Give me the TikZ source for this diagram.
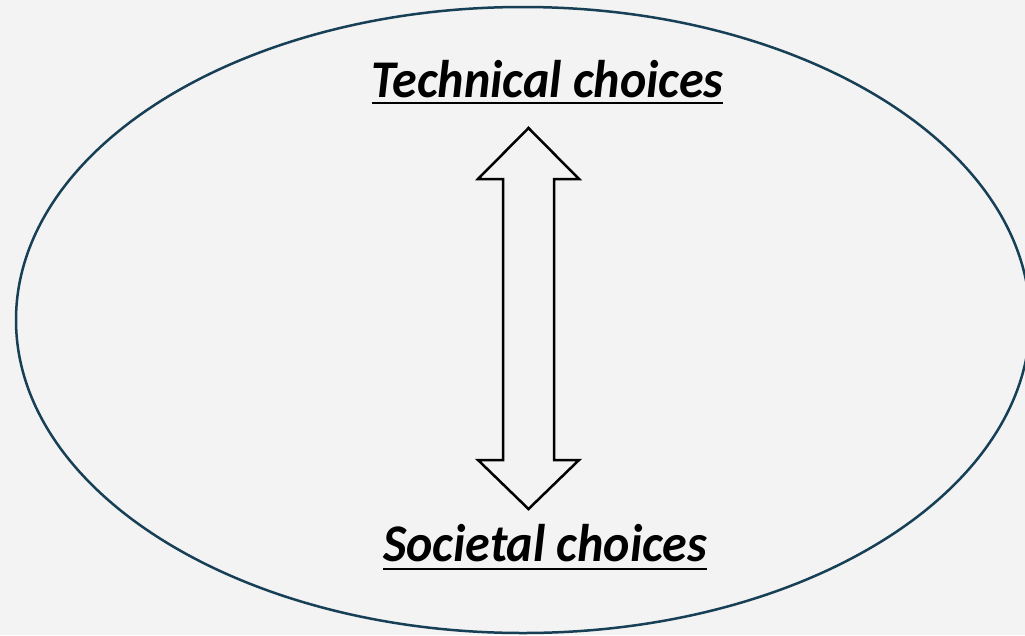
\documentclass[tikz,border=0pt]{standalone}
\usepackage{fontspec}
\setmainfont{Carlito}
\usepackage{tikz}
\usetikzlibrary{positioning}

\definecolor{bgGrey}{HTML}{F2F3F2}
\definecolor{ringBlue}{HTML}{173F56}

\begin{document}
\begin{tikzpicture}
	[
		x=1pt, y=-1pt,
		choice/.style = {inner sep=0pt, anchor=base, font=\fontsize{50}{60}\selectfont\bfseries\itshape},
		underl/.style = {line width=2.5pt},
	]

  \useasboundingbox (0,0) rectangle (1025,635);
  \fill[bgGrey] (0,0) rectangle (1025,635);
  \clip (0,0) rectangle (1025,635);

  \draw[ringBlue, line width=2.5pt] (523,320) ellipse [x radius=507, y radius=313];

  \node[choice] (tech) at (547.5,97) {\scalebox{1}[1.06]{Technical choices}};
  \node[choice] (soc) at (545,561) {\scalebox{1}[1.06]{Societal choices}};

  \draw[underl] ([yshift=-6pt]tech.base west) -- ([yshift=-6pt]tech.base east);
  \draw[underl] ([yshift=-8pt]soc.base west) -- ([yshift=-8pt]soc.base east);

  % two-headed block arrow
  \draw[line width=2.5pt, line join=miter, fill=bgGrey]
  	(528.5,128) -- (579,179) -- (554,179) -- (554,460) -- (579,460)
  	-- (528.5,509) -- (478,460) -- (503,460) -- (503,179) -- (478,179) -- cycle;

\end{tikzpicture}
\end{document}
